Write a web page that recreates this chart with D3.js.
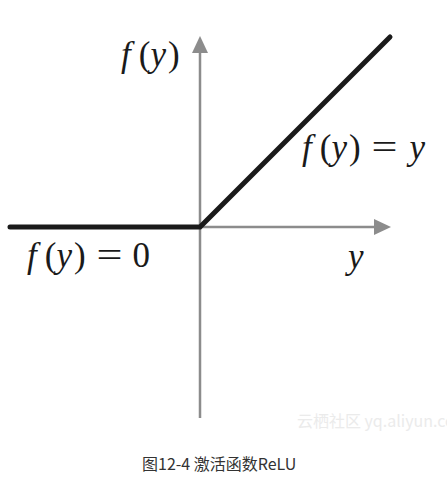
<!DOCTYPE html>
<html><head><meta charset="utf-8">
<script src="https://cdn.jsdelivr.net/npm/d3@7"></script>
<style>
html,body{margin:0;padding:0;background:#fff;}
svg{display:block;}
</style></head>
<body>
<svg id="c" width="447" height="483"></svg>
<script>
// ReLU data
const reluX = [-1, 0, 1];
const reluY = [0, 0, 1];
// axis extents (data units)
const xAxisExtent = [-1, 1];
const yAxisExtent = [-1, 1];
const caption = "图12-4 激活函数ReLU";
const watermark = "云栖社区 yq.aliyun.com";

const svg = d3.select("#c");
const x = d3.scaleLinear().domain([-1, 1]).range([10, 390]);
const y = d3.scaleLinear().domain([0, 1]).range([227, 37]);

const axisCol = "#8c8c8c";
// horizontal axis
const hx0 = x(xAxisExtent[0]), hx1 = x(xAxisExtent[1]) + 1, hy = y(0);
svg.append("line").attr("x1", hx0).attr("x2", hx1 - 16).attr("y1", hy).attr("y2", hy)
  .attr("stroke", axisCol).attr("stroke-width", 2.5);
svg.append("path").attr("d", `M${hx1},${hy} L${hx1-17},${hy-8} L${hx1-17},${hy+8} Z`).attr("fill", axisCol);
// vertical axis
const vx = x(0), vy0 = y(yAxisExtent[0]) + 1, vy1 = y(yAxisExtent[1]) - 1;
svg.append("line").attr("x1", vx).attr("x2", vx).attr("y1", vy0).attr("y2", vy1 + 16)
  .attr("stroke", axisCol).attr("stroke-width", 2.5);
svg.append("path").attr("d", `M${vx},${vy1} L${vx-8},${vy1+17} L${vx+8},${vy1+17} Z`).attr("fill", axisCol);

// ReLU line
const pts = reluX.map((d, i) => [d, reluY[i]]);
svg.append("path").datum(pts)
  .attr("d", d3.line().x(d => x(d[0])).y(d => y(d[1])))
  .attr("fill", "none").attr("stroke", "#1a1a1a").attr("stroke-width", 5)
  .attr("stroke-linecap", "round").attr("stroke-linejoin", "miter");

// math labels: glyphs laid out one after another
function mathLabel(px, py, parts) {
  let cx = px;
  parts.forEach(p => {
    const t = svg.append("text").attr("x", cx).attr("y", py)
      .attr("font-family", "'Liberation Serif','DejaVu Serif',serif")
      .attr("font-size", 35).attr("fill", "#1a1a1a")
      .attr("font-style", p.i ? "italic" : "normal").text(p.t);
    if (p.len) t.attr("textLength", p.len).attr("lengthAdjust", "spacingAndGlyphs");
    const w = p.len || t.node().getComputedTextLength();
    cx += w + (p.gap || 0);
  });
}
const fy = [{t:"f", i:true, gap:8}, {t:"(", gap:0}, {t:"y", i:true, gap:2}, {t:")", gap:9}];
const fyEq = [{t:"f", i:true, gap:8}, {t:"(", gap:0}, {t:"y", i:true, gap:2}, {t:")", gap:11}];
mathLabel(121, 66, fy);
mathLabel(302, 159, fyEq.concat([{t:"=", len:26, gap:12}, {t:"y", i:true}]));
mathLabel(27, 267, fyEq.concat([{t:"=", len:26, gap:10}, {t:"0"}]));
mathLabel(348, 268, [{t:"y", i:true}]);

// watermark
svg.append("text").attr("x", 297).attr("y", 427)
  .attr("font-family", "'Noto Sans CJK SC','Noto Sans',sans-serif").attr("font-size", 16)
  .attr("fill", "#ebebeb").text(watermark);

// caption
svg.append("text").attr("x", 142).attr("y", 470)
  .attr("font-family", "'Noto Sans CJK SC','Noto Sans',sans-serif").attr("font-size", 16)
  .attr("fill", "#333").text(caption);
</script>
</body></html>
